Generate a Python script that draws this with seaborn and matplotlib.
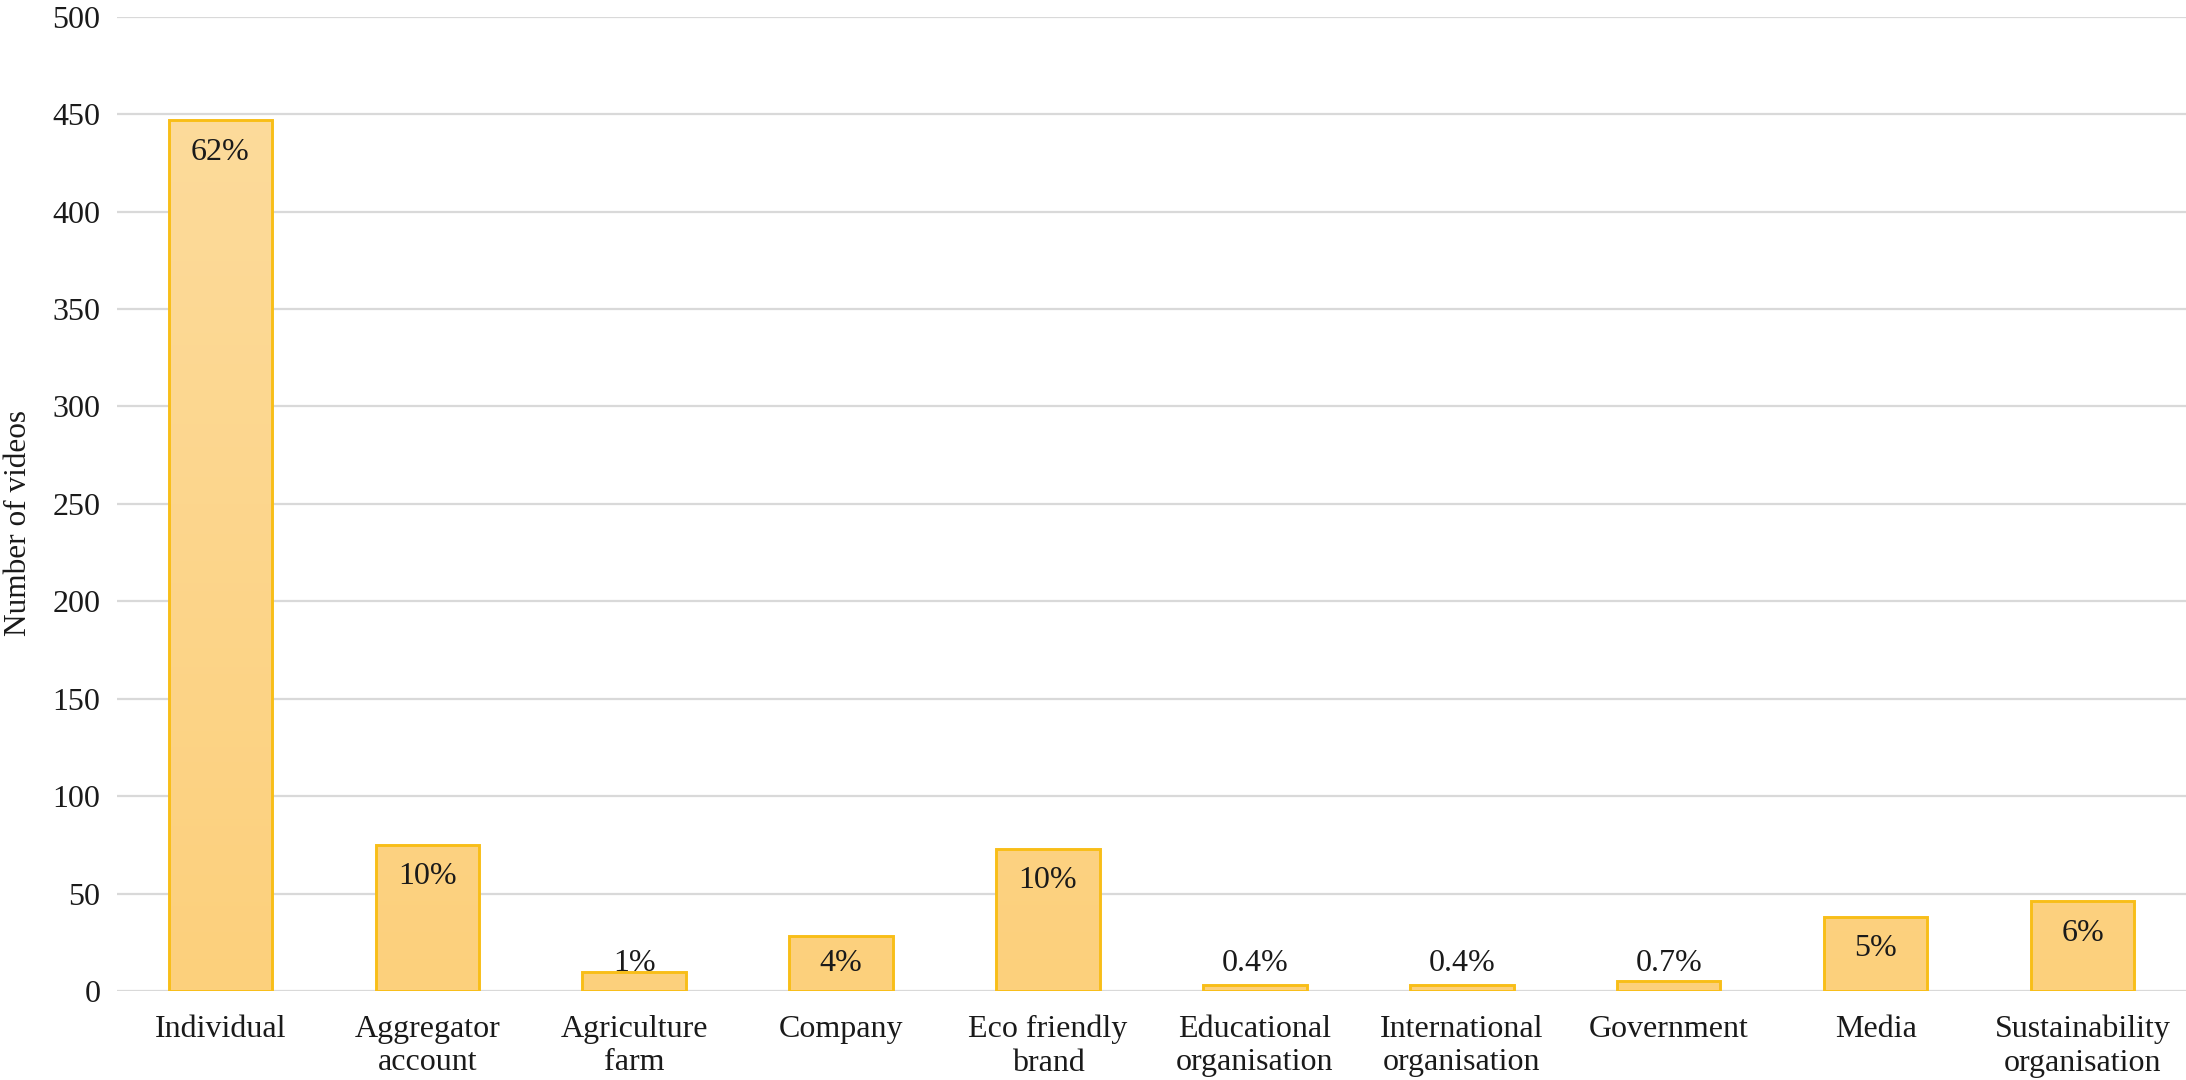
import matplotlib
matplotlib.use("Agg")
import matplotlib.pyplot as plt
from matplotlib.colors import LinearSegmentedColormap
import seaborn as sns
import pandas as pd
import numpy as np

categories = ["Individual", "Aggregator\naccount", "Agriculture\nfarm", "Company",
              "Eco friendly\nbrand", "Educational\norganisation", "International\norganisation",
              "Government", "Media", "Sustainability\norganisation"]
videos = [447, 75, 10, 28, 73, 3, 3, 5, 38, 46]
pct_labels = ["62%", "10%", "1%", "4%", "10%", "0.4%", "0.4%", "0.7%", "5%", "6%"]
y_ticks = [0, 50, 100, 150, 200, 250, 300, 350, 400, 450, 500]

sns.set_theme(style="white")
plt.rcParams["font.family"] = ["Liberation Serif", "DejaVu Serif"]

df = pd.DataFrame({"category": categories, "videos": videos})

fig = plt.figure(figsize=(21.86, 10.8), dpi=100)
ax = fig.add_axes([0.0535, 0.0824, 0.9465, 0.9021])

ax.set_axisbelow(True)
ax.yaxis.grid(True, color="#D9D9D9", linewidth=1.6)
ax.xaxis.grid(False)

sns.barplot(data=df, x="category", y="videos", ax=ax, color="#FDD58A",
            saturation=1, width=0.5, edgecolor="#F8BE18", linewidth=2.1)

ax.set_ylim(0, 500)
ax.set_xlim(-0.5, len(categories) - 0.5)

# subtle vertical gradient inside each bar (lighter at top)
cmap = LinearSegmentedColormap.from_list("bargrad", ["#FCD07C", "#FDDC9E"])
grad = np.linspace(0, 1, 256).reshape(-1, 1)
for patch in ax.patches:
    x0, y0 = patch.get_x(), patch.get_y()
    w, h = patch.get_width(), patch.get_height()
    im = ax.imshow(grad, cmap=cmap, origin="lower", aspect="auto",
                   extent=(x0, x0 + w, y0, y0 + 500), zorder=patch.get_zorder(),
                   interpolation="bilinear")
    im.set_clip_path(patch)
    patch.set_facecolor("none")
    patch.set_zorder(patch.get_zorder() + 0.1)
ax.set_xlim(-0.5, len(categories) - 0.5)
ax.set_ylim(0, 500)
ax.set_aspect("auto")

ax.set_yticks(y_ticks)
ax.set_yticklabels([str(t) for t in y_ticks])
ax.tick_params(axis="y", length=0, pad=12, labelsize=23, labelcolor="#1a1a1a")
ax.tick_params(axis="x", length=0, pad=17, labelsize=23, labelcolor="#1a1a1a")
for lab in ax.get_xticklabels():
    lab.set_linespacing(1.2)
    lab.set_verticalalignment("top")

for s in ax.spines.values():
    s.set_visible(False)

ax.set_xlabel("")
ax.set_ylabel("Number of videos", fontsize=22.5, color="#1a1a1a")
ax.yaxis.set_label_coords(-0.0405, 0.48)

# data labels: inside end, but not lower than a minimum height
px_per_unit = 974.0 / 500.0
for i, (v, lab) in enumerate(zip(videos, pct_labels)):
    ypos = max(v - 32 / px_per_unit, 28 / px_per_unit)
    ax.text(i, ypos, lab, ha="center", va="center", fontsize=23, color="#1a1a1a",
            zorder=5)

fig.savefig("out.png", dpi=100)
